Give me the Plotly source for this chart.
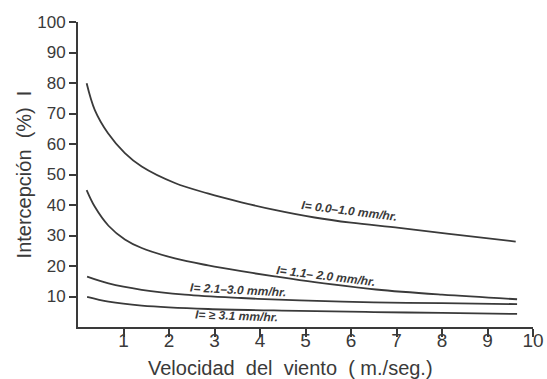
import plotly.graph_objects as go

# Wind speed (m/s) and interception (%)
x1 = [0.19, 0.37, 0.66, 1.03, 1.40, 2.13, 2.85, 3.59, 4.32, 5.2, 6.0, 7.06, 8.3, 9.62]
y1 = [79.9, 71.1, 63.5, 57.0, 52.6, 47.2, 43.8, 40.9, 38.4, 35.9, 34.2, 32.5, 30.3, 28.0]

x2 = [0.19, 0.37, 0.67, 1.03, 1.40, 2.13, 2.86, 3.59, 4.32, 5.2, 6.55, 8.0, 9.65]
y2 = [44.9, 39.4, 33.2, 28.7, 25.9, 22.5, 20.2, 18.3, 16.6, 14.7, 12.3, 10.6, 9.1]

x3 = [0.2, 0.67, 1.40, 2.35, 3.59, 4.87, 6.5, 8.0, 9.65]
y3 = [16.5, 14.3, 12.2, 10.6, 9.5, 8.7, 8.1, 7.8, 7.5]

x4 = [0.2, 0.67, 1.40, 2.86, 4.87, 6.5, 8.0, 9.65]
y4 = [9.9, 8.3, 7.0, 5.9, 5.3, 4.9, 4.6, 4.3]

labels = ["I= 0.0\u20131.0 mm/hr.", "I= 1.1\u2013 2.0 mm/hr.", "I= 2.1\u20133.0 mm/hr.", "I= \u2265 3.1 mm/hr."]
label_x = [5.96, 5.44, 3.51, 3.49]
label_y = [37.9, 16.6, 12.1, 3.5]
label_angle = [7, 7, 3, 2]

y_ticks = [10, 20, 30, 40, 50, 60, 70, 80, 90, 100]
x_ticks = [1, 2, 3, 4, 5, 6, 7, 8, 9, 10]

x_title = "Velocidad  del  viento  ( m./seg.)"
y_title = "Intercepción  (%)  I"

ink = "#3a3a3a"
fig = go.Figure()
for xs, ys in [(x1, y1), (x2, y2), (x3, y3), (x4, y4)]:
    fig.add_trace(go.Scatter(x=xs, y=ys, mode="lines",
                             line=dict(color=ink, width=1.8, shape="spline", smoothing=1.0),
                             showlegend=False, hoverinfo="skip"))

for t, lx, ly, ang in zip(labels, label_x, label_y, label_angle):
    fig.add_annotation(x=lx, y=ly, text="<i><b>" + t + "</b></i>", showarrow=False, textangle=ang,
                       font=dict(family="Liberation Sans, Arial", size=12, color=ink))

# x-axis title placed as a paper annotation (slightly left of centre, as in the original)
fig.add_annotation(xref="paper", yref="paper", x=0.466, y=-0.135, xanchor="center", yanchor="middle",
                   text=x_title, showarrow=False, font=dict(family="Liberation Sans, Arial", size=20, color=ink))

fig.update_layout(
    width=547, height=379,
    margin=dict(l=78, r=14, t=22, b=52),
    paper_bgcolor="white", plot_bgcolor="white",
    font=dict(family="Liberation Sans, Arial", color=ink),
)
fig.update_xaxes(range=[0, 10], tickvals=x_ticks, ticktext=[str(v) for v in x_ticks], automargin=False,
                 showline=True, linecolor=ink, linewidth=2, ticks="outside", ticklen=8, tickwidth=1.5,
                 tickcolor=ink, showgrid=False, zeroline=False, tickfont=dict(size=19),
                 ticklabelstandoff=-13)
fig.update_yaxes(range=[0, 100], tickvals=y_ticks, ticktext=[str(v) for v in y_ticks], automargin=False,
                 showline=True, linecolor=ink, linewidth=2, ticks="outside", ticklen=7, tickwidth=1.5,
                 tickcolor=ink, showgrid=False, zeroline=False, tickfont=dict(size=17),
                 title=dict(text=y_title, font=dict(size=20), standoff=0))

fig.write_html("out.html", config={"displayModeBar": False},
               post_script="document.body.style.margin='0';")
